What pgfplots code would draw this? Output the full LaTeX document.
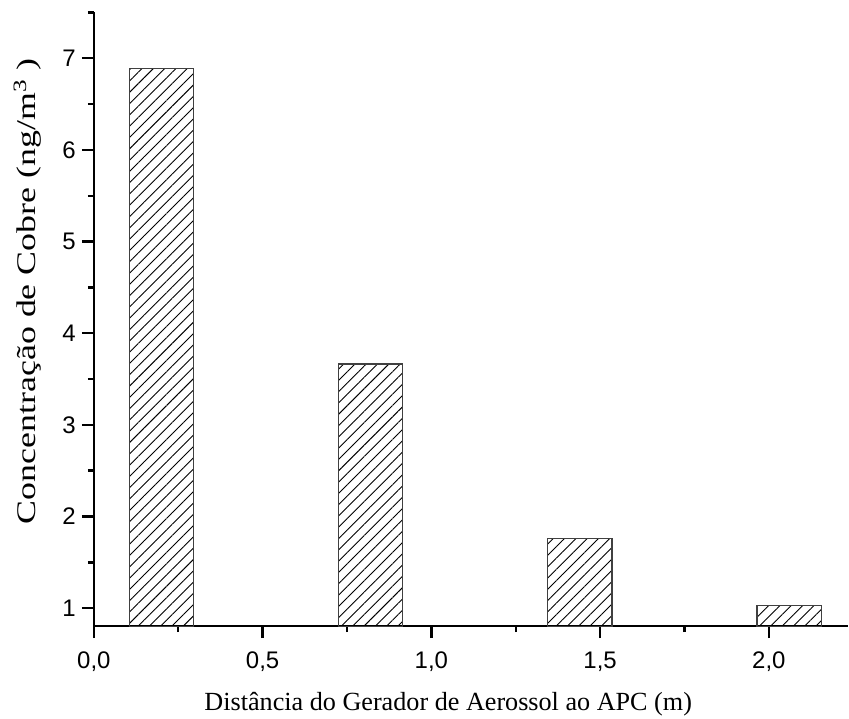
\documentclass[border=0pt]{standalone}
\usepackage{fontspec}
\setmainfont{Liberation Serif}
\newfontfamily\arialf{Liberation Sans}
\usepackage{graphicx}
\usepackage{pgfplots}
\pgfplotsset{compat=1.18}
\usetikzlibrary{patterns.meta}

\begin{document}
\begin{tikzpicture}
\begin{axis}[
  scale only axis, width=755pt, height=615pt,
  xmin=0, xmax=2.234, ymin=0.804, ymax=7.505,
  axis lines=left,
  axis line style={-, line width=2.4pt},
  xtick={0,0.5,1,1.5,2},
  xticklabels={{0,0},{0,5},{1,0},{1,5},{2,0}},
  minor xtick={0.25,0.75,1.25,1.75},
  ytick={1,2,3,4,5,6,7},
  yticklabels={1,2,3,4,5,6,7},
  minor ytick={1.5,2.5,3.5,4.5,5.5,6.5,7.5},
  tick align=outside,
  major tick length=12pt, minor tick length=6pt,
  every tick/.style={black, line width=2.4pt},
  ticklabel style={font=\arialf\fontsize{24}{28}\selectfont, inner sep=0pt},
  xticklabel style={anchor=base, yshift=-30pt},
  yticklabel style={anchor=east, xshift=-6pt},
  xlabel={Distância do Gerador de Aerossol ao APC (m)},
  ylabel={\scalebox{1.33}[1]{Concentração de Cobre (ng/m\textsuperscript{3} )}},
  xlabel style={font=\fontsize{26.2}{30}\selectfont, at={(rel axis cs:0.47,-0.1366)}, anchor=base, inner sep=0pt},
  ylabel style={font=\fontsize{27}{30}\selectfont, at={(rel axis cs:-0.078,0.545)}, anchor=base, inner sep=0pt},
]
\addplot[ybar, bar width=0.19, draw=black!75, line width=1.2pt,
  pattern={Lines[angle=45,distance=8pt,line width=0.9pt]}]
  coordinates {(0.2,6.891) (0.819,3.665) (1.44,1.759) (2.06,1.033)};
\end{axis}
\path ([shift={(-94pt,-93pt)}]current axis.south west) rectangle ([shift={(0pt,12pt)}]current axis.north east);
\end{tikzpicture}
\end{document}
